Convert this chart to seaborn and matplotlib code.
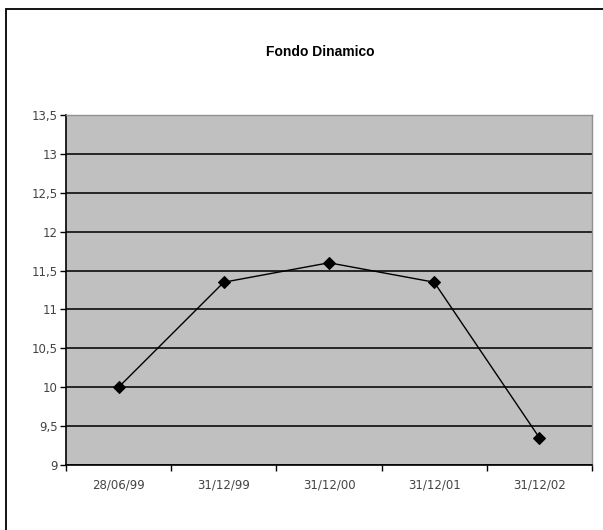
import numpy as np
import pandas as pd
import matplotlib
matplotlib.use("Agg")
import matplotlib.pyplot as plt
import matplotlib.ticker as mticker
import seaborn as sns

# ── DATA ──────────────────────────────────────────────────────────────────────
DATES  = ["28/06/99", "31/12/99", "31/12/00", "31/12/01", "31/12/02"]
VALUES = [10.0, 11.35, 11.6, 11.35, 9.35]
Y_TICKS = [9, 9.5, 10, 10.5, 11, 11.5, 12, 12.5, 13, 13.5]
TITLE = "Fondo Dinamico"

# ── PLOT ──────────────────────────────────────────────────────────────────────
sns.set_theme(style="white")
plt.rcParams["font.family"] = ["DejaVu Sans"]

df = pd.DataFrame({"pos": np.arange(len(DATES)), "value": VALUES})

fig = plt.figure(figsize=(6.03, 5.30), dpi=100)
ax = fig.add_axes([66 / 603, 1 - 465 / 530, (592 - 66) / 603, (465 - 115) / 530])
ax.set_facecolor("#c0c0c0")

sns.lineplot(data=df, x="pos", y="value", ax=ax, color="black", linewidth=1.0,
             marker="D", markersize=6, markeredgecolor="black", zorder=3)

ax.set_xlim(-0.5, len(DATES) - 0.5)
ax.set_ylim(9, 13.5)
ax.set_yticks(Y_TICKS)
ax.yaxis.set_major_formatter(mticker.FuncFormatter(
    lambda v, _: f"{v:g}".replace(".", ",")))
ax.set_xticks(df["pos"])
ax.set_xticklabels(DATES)
ax.xaxis.set_minor_locator(mticker.FixedLocator(np.arange(-0.5, len(DATES), 1.0)))
ax.tick_params(axis="x", which="major", length=0, pad=10, labelsize=8.5, labelcolor="#444444")
ax.tick_params(axis="x", which="minor", length=4, width=1, color="black", direction="out")
ax.tick_params(axis="y", length=4, width=1, color="black", direction="out",
               labelsize=8.5, labelcolor="#444444", pad=2)
ax.xaxis.set_ticks_position("bottom")
ax.yaxis.set_ticks_position("left")

ax.grid(axis="y", color="#1a1a1a", linewidth=1.3)
ax.set_axisbelow(True)
for side in ["top", "right"]:
    ax.spines[side].set_color("#909090")
    ax.spines[side].set_linewidth(1.0)
for side in ["left", "bottom"]:
    ax.spines[side].set_color("black")
    ax.spines[side].set_linewidth(1.2)

ax.set_xlabel("")
ax.set_ylabel("")
fig.text(320 / 603, 1 - 52 / 530, TITLE, ha="center", va="center", color="black",
         fontsize=10, fontweight="bold", family=["Liberation Sans", "DejaVu Sans"])

# outer chart frame (right and bottom edges fall outside the picture)
fig.patches.append(plt.Rectangle((6 / 603, -10 / 530), 620 / 603, 531 / 530,
                                 transform=fig.transFigure, fill=False,
                                 edgecolor="black", linewidth=1.3))

fig.savefig("out.png", dpi=100)
